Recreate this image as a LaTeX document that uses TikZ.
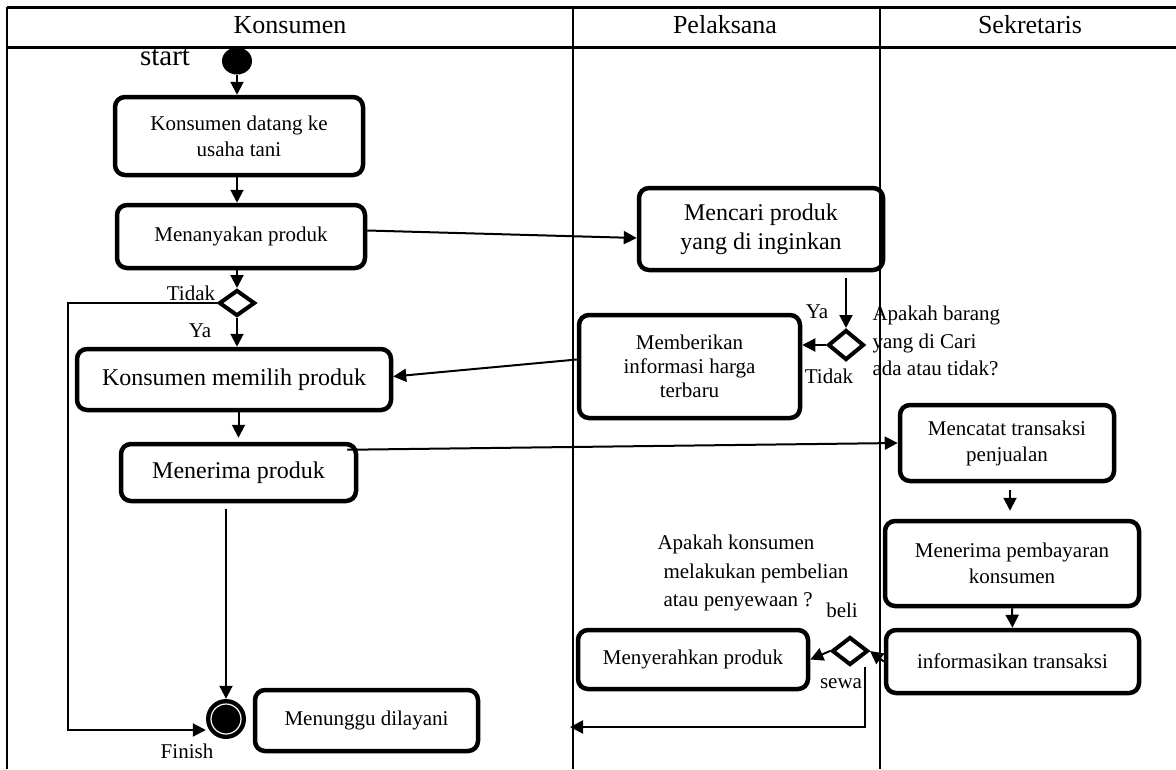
\documentclass[tikz,border=0pt]{standalone}
\usepackage{fontspec}
\setmainfont{Liberation Serif}
\usetikzlibrary{shapes.geometric, arrows.meta, positioning}

\tikzset{
  txt/.style={font=\fontsize{21}{26}\selectfont},
  bigtxt/.style={font=\fontsize{24}{29}\selectfont},
  headtxt/.style={font=\fontsize{26}{30}\selectfont},
  act/.style={draw, line width=4.5pt, rounded corners=10pt, align=center, inner sep=2pt, txt},
  decision/.style={diamond, draw, line width=4pt, inner sep=0pt},
  flow/.style={line width=2pt, -{Triangle[length=13pt,width=13pt]}},
  lane/.style={line width=2pt}
}

\begin{document}
\begin{tikzpicture}[x=1pt, y=-1pt]
    \useasboundingbox (0,0) rectangle (1176,769);

    % swimlanes and their header
    \draw[line width=3pt] (7,7) -- (1176,7);
    \draw[line width=3pt] (7,47) -- (1176,47);
    \foreach \lx in {7,573,880}
        \draw[lane] (\lx,7) -- (\lx,769);
    \node[headtxt] (headK) at (290,25) {Konsumen};
    \node[headtxt] (headP) at (725,25) {Pelaksana};
    \node[headtxt] (headS) at (1030,25) {Sekretaris};

    % Konsumen lane
    \node[ellipse, fill=black, minimum width=30pt, minimum height=27pt, inner sep=0pt] (startdot) at (237,61) {};
    \node[font=\fontsize{29}{32}\selectfont] (startlbl) at (165,57) {start};
    \node[act, minimum width=248pt, minimum height=78pt] (act1) at (239,136) {Konsumen datang ke\\usaha tani};
    \node[act, minimum width=248pt, minimum height=63pt] (act2) at (241,236.5) {Menanyakan produk};
    \node[decision, minimum width=36pt, minimum height=26pt] (dec1) at (237,303) {};
    \node[txt] (tidak1) at (191,293) {Tidak};
    \node[txt] (ya1) at (200,331) {Ya};
    \node[act, bigtxt, minimum width=314pt, minimum height=61pt] (act3) at (234,379.5) {Konsumen memilih produk};
    \node[act, bigtxt, minimum width=235pt, minimum height=57pt] (act4) at (238.5,472.5) {Menerima produk};
    \node[circle, fill=black, minimum size=40pt, inner sep=0pt] (final) at (226,719) {};
    \draw[white, line width=1.2pt] (final.center) circle[radius=15pt];
    \node[txt] (finish) at (187,751) {Finish};
    \node[act, minimum width=223pt, minimum height=61pt] (act5) at (366.5,720.5) {Menunggu dilayani};
    \coordinate (loopbot) at (68,730);

    % Pelaksana lane
    \node[act, bigtxt, minimum width=244pt, minimum height=82pt] (act6) at (761,229) {Mencari produk\\yang di inginkan};
    \node[decision, minimum width=36pt, minimum height=30pt] (dec2) at (846,345) {};
    \node[txt] (ya2) at (817,312) {Ya};
    \node[txt] (tidak2) at (829,376) {Tidak};
    \node[txt, align=left, anchor=west, font=\fontsize{21}{27.5}\selectfont] (qbarang) at (869,341) {Apakah barang\\yang di Cari\\ada atau tidak?};
    \node[act, font=\fontsize{21}{24}\selectfont, minimum width=221pt, minimum height=103pt] (act7) at (689.5,366.5) {Memberikan\\informasi harga\\terbaru};
    \node[act, minimum width=230pt, minimum height=59pt] (act11) at (693,659.5) {Menyerahkan produk};
    \node[decision, minimum width=36pt, minimum height=28pt] (dec3) at (850,651) {};
    \node[txt, align=left, anchor=west, font=\fontsize{21}{28.5}\selectfont] (qbeli) at (654,573) {Apakah konsumen\\\hspace*{6pt}melakukan pembelian\\\hspace*{6pt}atau penyewaan ?};
    \node[txt] (beli) at (842,610) {beli};
    \node[txt] (sewa) at (841,684) {sewa};
    \coordinate (sewabend) at (865,727);
    \coordinate (sewaend) at (570,727);

    % Sekretaris lane
    \node[act, minimum width=214pt, minimum height=76pt] (act8) at (1007,443) {Mencatat transaksi\\penjualan};
    \node[act, minimum width=254pt, minimum height=85pt] (act9) at (1012,563.5) {Menerima pembayaran\\konsumen};
    \node[act, minimum width=253pt, minimum height=63pt] (act10) at (1012.5,661.5) {informasikan transaksi};

    % flows
    \draw[flow] (startdot.south) -- (startdot.south |- act1.north);
    \draw[flow] (startdot.south |- act1.south) -- (startdot.south |- act2.north);
    \draw[flow] (dec1 |- act2.south) -- (dec1.north);
    \draw[flow] (dec1.south) -- (dec1 |- act3.north);
    \draw[flow] (dec1.west) -| (loopbot) -- (final.west |- loopbot);
    \draw[flow, shorten >=4pt] (act4 |- act3.south) -- (act4.north);
    \draw[flow, shorten <=6pt] (act4.south -| final) -- (final.north);
    \draw[flow] ([xshift=-11pt,yshift=-8pt]act4.north east) -- (act8.west);
    \draw[flow] ([yshift=6pt]act2.east) -- ([yshift=-9pt]act6.west);
    \draw[flow, shorten <=6pt] (dec2 |- act6.south) -- (dec2.north);
    \draw[flow] (dec2.west) -- (act7.east |- dec2.west);
    \draw[flow] ([yshift=7pt]act7.west) -- ([yshift=3pt]act3.east);
    \draw[flow, shorten <=7pt, shorten >=8pt] ([xshift=3pt]act8.south) -- ([xshift=3pt]act8.south |- act9.north);
    \draw[flow] (act9.south) -- (act10.north);
    \draw[flow] (act10.west) -- (dec3.east);
    \draw[flow] (dec3.west) -- (act11.east);
    \draw[flow] (dec3.south -| sewabend) -- (sewabend) -- (sewaend);
\end{tikzpicture}
\end{document}
